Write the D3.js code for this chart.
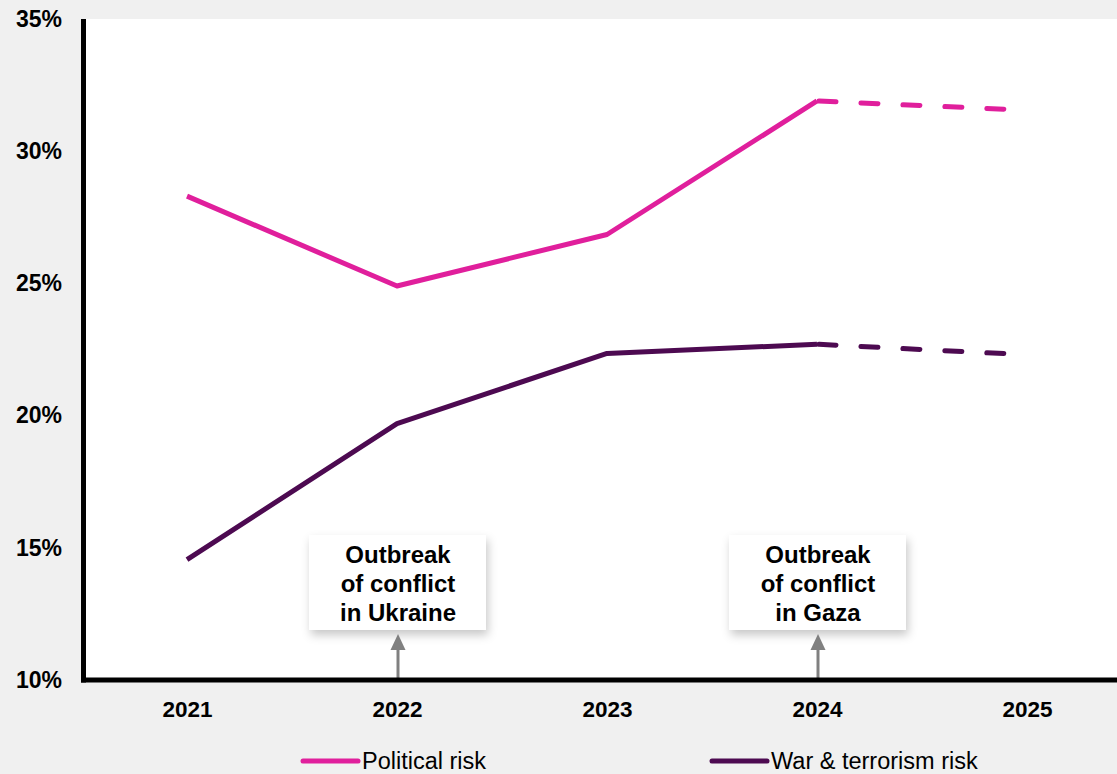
<!DOCTYPE html>
<html>
<head>
<meta charset="utf-8">
<script src="https://cdn.jsdelivr.net/npm/d3@7"></script>
<style>
  body { margin: 0; background: #f0f0f0; }
  svg text { font-family: "Liberation Sans", Arial, sans-serif; }
</style>
</head>
<body>
<script>
// data
var years = [2021, 2022, 2023, 2024, 2025];
var politicalRisk = [28.3, 24.9, 26.85, 31.9, 31.55];
var warRisk = [14.55, 19.7, 22.35, 22.7, 22.3];
var yTicks = [10, 15, 20, 25, 30, 35];
var forecastFrom = 2024;
var annotations = [
    { year: 2022, lines: ["Outbreak", "of conflict", "in Ukraine"] },
    { year: 2024, lines: ["Outbreak", "of conflict", "in Gaza"] }
];
var seriesNames = ["Political risk", "War & terrorism risk"];
var seriesColors = ["#e01f9c", "#4d0a51"];

var W = 1117, H = 774;

var svg = d3.select("body").append("svg")
    .attr("width", W)
    .attr("height", H)
    .style("display", "block")
    .style("background", "#f0f0f0");

var defs = svg.append("defs");
var shadow = defs.append("filter").attr("id", "shadow")
    .attr("x", "-20%").attr("y", "-20%").attr("width", "150%").attr("height", "160%");
shadow.append("feDropShadow")
    .attr("dx", 2).attr("dy", 5)
    .attr("stdDeviation", 5)
    .attr("flood-color", "#000")
    .attr("flood-opacity", 0.22);

var x = d3.scaleLinear().domain([2021, 2025]).range([187, 1027]);
var y = d3.scaleLinear().domain([10, 35]).range([680, 19]);

// white plot area
svg.append("rect")
    .attr("x", 84).attr("y", y(35))
    .attr("width", W - 84).attr("height", y(10) - y(35))
    .attr("fill", "#fff");

// axes labels
var yAxis = svg.append("g")
    .attr("transform", "translate(72,0)")
    .call(d3.axisLeft(y).tickValues(yTicks).tickSize(0).tickPadding(10)
        .tickFormat(function (d) { return d + "%"; }));
yAxis.select(".domain").remove();
yAxis.selectAll("text")
    .style("font-family", "Liberation Sans, Arial, sans-serif")
    .style("font-size", "23px")
    .style("font-weight", "bold")
    .attr("fill", "#000");

var xAxis = svg.append("g")
    .attr("transform", "translate(0," + (y(10) + 16) + ")")
    .call(d3.axisBottom(x).tickValues(years).tickSize(0).tickPadding(5)
        .tickFormat(d3.format("d")));
xAxis.select(".domain").remove();
xAxis.selectAll("text")
    .style("font-family", "Liberation Sans, Arial, sans-serif")
    .style("font-size", "22.5px")
    .style("font-weight", "bold")
    .attr("fill", "#000");

// lines
function drawSeries(values, color) {
    var pts = years.map(function (yr, i) { return [yr, values[i]]; });
    var solid = pts.filter(function (p) { return p[0] <= forecastFrom; });
    var dashed = pts.filter(function (p) { return p[0] >= forecastFrom; });
    var line = d3.line()
        .x(function (p) { return x(p[0]); })
        .y(function (p) { return y(p[1]); });
    svg.append("path")
        .attr("d", line(solid))
        .attr("fill", "none")
        .attr("stroke", color)
        .attr("stroke-width", 5)
        .attr("stroke-linejoin", "round");
    svg.append("path")
        .attr("d", line(dashed))
        .attr("fill", "none")
        .attr("stroke", color)
        .attr("stroke-width", 5)
        .attr("stroke-linecap", "round")
        .attr("stroke-dasharray", "17,25")
        .attr("stroke-dashoffset", -2);
}
drawSeries(politicalRisk, seriesColors[0]);
drawSeries(warRisk, seriesColors[1]);

// annotations
annotations.forEach(function (a) {
    var cx = x(a.year);
    svg.append("rect")
        .attr("x", cx - 88).attr("y", 535)
        .attr("width", 177).attr("height", 95)
        .attr("fill", "#fff")
        .attr("filter", "url(#shadow)");
    svg.append("text")
        .attr("x", cx + 1)
        .attr("text-anchor", "middle")
        .style("font-size", "24px")
        .style("font-weight", "bold")
        .attr("fill", "#000")
        .selectAll("tspan")
        .data(a.lines)
        .enter().append("tspan")
        .attr("x", cx + 1)
        .attr("y", function (d, i) { return 563 + i * 29; })
        .text(function (d) { return d; });
    svg.append("line")
        .attr("x1", cx + 1).attr("x2", cx + 1)
        .attr("y1", y(10)).attr("y2", 649)
        .attr("stroke", "#808080")
        .attr("stroke-width", 3);
    svg.append("path")
        .attr("d", "M" + (cx + 1) + ",634 L" + (cx + 8.5) + ",650 L" + (cx - 6.5) + ",650 Z")
        .attr("fill", "#808080");
});

// axis lines
svg.append("line")
    .attr("x1", 83.5).attr("x2", 83.5)
    .attr("y1", y(35)).attr("y2", y(10) + 2.5)
    .attr("stroke", "#000").attr("stroke-width", 5);
svg.append("line")
    .attr("x1", 81).attr("x2", W)
    .attr("y1", y(10)).attr("y2", y(10))
    .attr("stroke", "#000").attr("stroke-width", 5);

// legend
var legendX = [303, 712];
seriesNames.forEach(function (name, i) {
    var g = svg.append("g");
    g.append("line")
        .attr("x1", legendX[i]).attr("x2", legendX[i] + 55)
        .attr("y1", 761).attr("y2", 761)
        .attr("stroke", seriesColors[i])
        .attr("stroke-width", 5)
        .attr("stroke-linecap", "round");
    g.append("text")
        .attr("x", legendX[i] + 59)
        .attr("y", 769)
        .style("font-size", "23.5px")
        .attr("fill", "#000")
        .text(name);
});
</script>
</body>
</html>
